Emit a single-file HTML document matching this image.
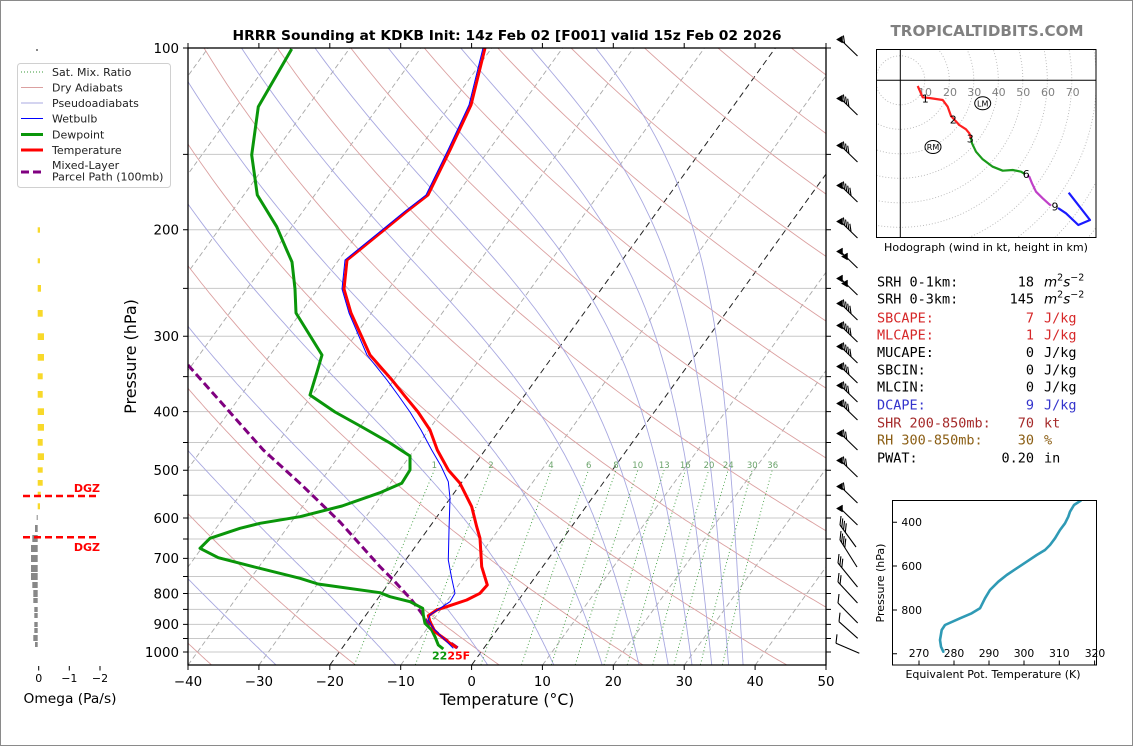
<!DOCTYPE html>
<html><head><meta charset="utf-8"><style>
html,body{margin:0;padding:0;background:#fff;}
svg{display:block;}
text{font-family:"DejaVu Sans","Liberation Sans",sans-serif;}
.mono{font-family:"DejaVu Sans Mono","Liberation Mono",monospace;}
</style></head><body>
<svg id="s" xmlns="http://www.w3.org/2000/svg" width="1134" height="748" viewBox="0 0 1134 748">
<defs>
<clipPath id="cm"><rect x="188" y="48" width="638" height="617"/></clipPath>
<clipPath id="ch"><rect x="876.5" y="49.5" width="219.5" height="188"/></clipPath>
<clipPath id="ct"><rect x="892.5" y="500.5" width="204" height="164.5"/></clipPath>
</defs>
<rect x="0" y="0" width="1134" height="748" fill="#fff"/>
<rect x="0.5" y="0.5" width="1132" height="745" fill="none" stroke="#8a8a8a" stroke-width="1"/>

<!-- title -->
<text x="507" y="40" text-anchor="middle" font-weight="bold" font-size="13.6" textLength="549" lengthAdjust="spacingAndGlyphs">HRRR Sounding at KDKB Init: 14z Feb 02 [F001] valid 15z Feb 02 2026</text>
<text x="987" y="36" text-anchor="middle" font-weight="bold" font-size="15.5" fill="#808080" textLength="193" lengthAdjust="spacingAndGlyphs">TROPICALTIDBITS.COM</text>

<!-- horizontal grid -->
<g stroke="#c8c8c8" stroke-width="1">
<line x1="188" x2="826" y1="154.4" y2="154.4"/><line x1="188" x2="826" y1="229.8" y2="229.8"/>
<line x1="188" x2="826" y1="288.4" y2="288.4"/><line x1="188" x2="826" y1="336.2" y2="336.2"/>
<line x1="188" x2="826" y1="376.6" y2="376.6"/><line x1="188" x2="826" y1="411.6" y2="411.6"/>
<line x1="188" x2="826" y1="442.5" y2="442.5"/><line x1="188" x2="826" y1="470.2" y2="470.2"/>
<line x1="188" x2="826" y1="495.2" y2="495.2"/><line x1="188" x2="826" y1="518.0" y2="518.0"/>
<line x1="188" x2="826" y1="539.0" y2="539.0"/><line x1="188" x2="826" y1="558.4" y2="558.4"/>
<line x1="188" x2="826" y1="576.5" y2="576.5"/><line x1="188" x2="826" y1="593.5" y2="593.5"/>
<line x1="188" x2="826" y1="609.4" y2="609.4"/><line x1="188" x2="826" y1="624.4" y2="624.4"/>
<line x1="188" x2="826" y1="638.5" y2="638.5"/><line x1="188" x2="826" y1="652" y2="652"/>
</g>
<g id="bg" clip-path="url(#cm)"></g>

<!-- mixing ratio labels -->
<g font-size="8.5" fill="#6aa36a" text-anchor="middle">
<text x="434.3" y="468">1</text><text x="491" y="468">2</text><text x="551" y="468">4</text>
<text x="588.7" y="468">6</text><text x="616" y="468">8</text><text x="637.7" y="468">10</text>
<text x="664.3" y="468">13</text><text x="685.3" y="468">16</text><text x="709" y="468">20</text>
<text x="728.3" y="468">24</text><text x="752.3" y="468">30</text><text x="772.7" y="468">36</text>
</g>

<!-- data -->
<g clip-path="url(#cm)" fill="none" stroke-linejoin="round">
<polyline stroke="#800080" stroke-width="3" stroke-dasharray="8,4" points="188,365 263.3,450 300,483.3 340,522 380,566.7 393.3,580 411.7,600 421.7,613.3 430,626.7 441.7,636.7 458.3,648.3"/>
<polyline stroke="#0a960a" stroke-width="3" points="291.7,49 258.3,106.7 251.7,155 257.3,195 276.7,226.7 286.7,250 292,262 295,289 296,313 322,355 317,372 310,395 335,412 362,427 390,443 410,456 410,470 401.7,483.3 380,492.7 342,506 300,516.7 260,523.3 240,528.3 210,538.3 200,548.3 218.3,557.7 253.3,566.7 300,578.3 318,584 380,592.7 390,596.7 410,601.7 422.7,608.3 423.3,615 425,623.3 431.7,630 435,636.7 438.3,645 443.3,649"/>
<polyline stroke="#ff0000" stroke-width="3" points="485,48 471,105 450,150 428,195 406,212 384,230 347,260 344,289 351,313 370,355 392,380 404,395 418,412 430,430 437.3,450 448.3,470 460,483.3 471.7,506.7 476.7,526.7 480,538.3 481.7,566.7 487.3,585 480,593.3 466.7,600 446.7,606.7 436.7,610 428.3,615.7 430,621.7 435,631.7 441.7,636.7 450,643.3 456.7,647.7"/>
<polyline stroke="#0000ff" stroke-width="1" points="483,48 469,105 448,150 426,195 404,212 382,230 345,260 342,289 349,313 367,355 387,380 398,395 410,412 421,430 431.7,450 441,466 448.3,481.7 450,498.3 449,530 448.3,560 451.7,578.3 455,593.3 450,601.7 440,608.3 430,615 428.3,620 433.3,628.3 441.7,636.7 453.3,648.3"/>
</g>
<text x="432" y="659.5" font-size="11" font-weight="bold"><tspan fill="#0a960a">22</tspan><tspan fill="#ff0000">25F</tspan></text>

<!-- main axes frame and ticks -->
<rect x="188" y="48" width="638" height="617" fill="none" stroke="#000" stroke-width="1.3"/>
<path stroke="#000" stroke-width="1" fill="none" d="
M188,665V670M258.9,665V670M329.8,665V670M400.7,665V670M471.6,665V670M542.4,665V670M613.3,665V670M684.2,665V670M755.1,665V670M826,665V670
M188,48V43M258.9,48V43M329.8,48V43M400.7,48V43M471.6,48V43M542.4,48V43M613.3,48V43M684.2,48V43M755.1,48V43M826,48V43
M183,48H188M183,154.4H188M183,229.8H188M183,288.4H188M183,336.2H188M183,376.6H188M183,411.6H188M183,442.5H188M183,470.2H188M183,495.2H188M183,518H188M183,539H188M183,558.4H188M183,576.5H188M183,593.5H188M183,609.4H188M183,624.4H188M183,638.5H188M183,652H188
M826,48H831M826,154.4H831M826,229.8H831M826,288.4H831M826,336.2H831M826,376.6H831M826,411.6H831M826,442.5H831M826,470.2H831M826,495.2H831M826,518H831M826,539H831M826,558.4H831M826,576.5H831M826,593.5H831M826,609.4H831M826,624.4H831M826,638.5H831M826,652H831"/>
<g font-size="13.4" text-anchor="end">
<text x="179" y="52.8">100</text><text x="179" y="234.6">200</text><text x="179" y="341">300</text>
<text x="179" y="416.4">400</text><text x="179" y="475">500</text><text x="179" y="522.8">600</text>
<text x="179" y="563.2">700</text><text x="179" y="598.3">800</text><text x="179" y="629.2">900</text>
<text x="179" y="656.8">1000</text>
</g>
<g font-size="13.4" text-anchor="middle">
<text x="188" y="686">−40</text><text x="258.9" y="686">−30</text><text x="329.8" y="686">−20</text>
<text x="400.7" y="686">−10</text><text x="471.6" y="686">0</text><text x="542.4" y="686">10</text>
<text x="613.3" y="686">20</text><text x="684.2" y="686">30</text><text x="755.1" y="686">40</text>
<text x="826" y="686">50</text>
</g>
<text x="507" y="705" text-anchor="middle" font-size="15.6">Temperature (°C)</text>
<text transform="translate(136,356.5) rotate(-90)" text-anchor="middle" font-size="16">Pressure (hPa)</text>

<!-- legend -->
<rect x="17.5" y="63.5" width="153" height="124" rx="3" fill="#fff" stroke="#d0d0d0"/>
<g fill="none">
<line x1="21" x2="43" y1="72" y2="72" stroke="#3a9a3a" stroke-width="1" stroke-dasharray="1,2"/>
<line x1="21" x2="43" y1="87.5" y2="87.5" stroke="#dba0a0" stroke-width="1"/>
<line x1="21" x2="43" y1="103" y2="103" stroke="#a8a8e0" stroke-width="1"/>
<line x1="21" x2="43" y1="118.5" y2="118.5" stroke="#0000ff" stroke-width="1"/>
<line x1="21" x2="43" y1="134.5" y2="134.5" stroke="#0a960a" stroke-width="3"/>
<line x1="21" x2="43" y1="150" y2="150" stroke="#ff0000" stroke-width="3"/>
<line x1="21" x2="43" y1="172" y2="172" stroke="#800080" stroke-width="3" stroke-dasharray="8,4"/>
</g>
<g font-size="11" fill="#222">
<text x="52" y="76">Sat. Mix. Ratio</text><text x="52" y="91.3">Dry Adiabats</text>
<text x="52" y="107">Pseudoadiabats</text><text x="52" y="122.3">Wetbulb</text>
<text x="52" y="138.3">Dewpoint</text><text x="52" y="154">Temperature</text>
<text x="52" y="169">Mixed-Layer</text><text x="52" y="180.7">Parcel Path (100mb)</text>
</g>

<!-- omega panel -->
<rect x="36" y="49" width="2" height="2" fill="#888"/>
<g fill="#f8d92a">
<rect x="37.7" y="227.3" width="2.3" height="5.4"/><rect x="37.7" y="258.3" width="2.3" height="5"/>
<rect x="37.7" y="285" width="3.3" height="6.7"/><rect x="37.7" y="310" width="5" height="6.7"/>
<rect x="37.7" y="333.3" width="6.3" height="6.7"/><rect x="37.7" y="354" width="6.3" height="6.7"/>
<rect x="37.7" y="373.3" width="5" height="6"/><rect x="37.7" y="391" width="5" height="6.7"/>
<rect x="37.7" y="408.3" width="6.3" height="6.7"/><rect x="37.7" y="424" width="6.3" height="6.7"/>
<rect x="37.7" y="439" width="5" height="6.7"/><rect x="37.7" y="453.3" width="6.3" height="6.7"/>
<rect x="37.7" y="467.3" width="5" height="5.4"/><rect x="37.7" y="480" width="5" height="5.7"/>
<rect x="37.7" y="491.7" width="3" height="3.3"/><rect x="37.7" y="503.3" width="2.3" height="6"/>
</g>
<g fill="#888">
<rect x="36.7" y="515" width="1" height="5"/><rect x="35" y="525" width="2.7" height="7"/>
<rect x="32.3" y="535" width="5.4" height="7"/><rect x="31" y="545" width="6.7" height="7"/>
<rect x="31" y="555" width="6.7" height="7"/><rect x="31" y="565" width="6.7" height="7"/>
<rect x="31" y="573" width="6.7" height="7"/><rect x="32.3" y="582" width="5.4" height="6"/>
<rect x="33.3" y="590" width="4.4" height="7"/><rect x="33.3" y="598" width="4.4" height="5"/>
<rect x="34.3" y="607" width="3.4" height="5"/><rect x="34.3" y="613" width="3.4" height="5"/>
<rect x="34.3" y="622" width="3.4" height="5"/><rect x="34.3" y="628" width="3.4" height="5"/>
<rect x="33.3" y="635" width="4.4" height="6"/><rect x="35" y="642" width="2.7" height="5"/>
</g>
<g stroke="#ff0000" stroke-width="2.5" stroke-dasharray="7,4">
<line x1="23" x2="99" y1="496" y2="496"/><line x1="23" x2="99" y1="537.3" y2="537.3"/>
</g>
<text x="100" y="492" text-anchor="end" font-size="11" font-weight="bold" fill="#ff0000">DGZ</text>
<text x="100" y="551" text-anchor="end" font-size="11" font-weight="bold" fill="#ff0000">DGZ</text>
<path stroke="#000" stroke-width="1" d="M38.7,666V670.5M69.3,666V670.5M100,666V670.5"/>
<g font-size="11" text-anchor="middle">
<text x="38.7" y="682">0</text><text x="69.3" y="682">−1</text><text x="100" y="682">−2</text>
</g>
<text x="70" y="703" text-anchor="middle" font-size="13" textLength="93" lengthAdjust="spacingAndGlyphs">Omega (Pa/s)</text>

<!-- wind barbs -->
<g id="barbs" stroke="#000" stroke-width="1.1" fill="#000"></g>

<!-- hodograph -->
<g clip-path="url(#ch)">
<g fill="none" stroke="#b8b8b8" stroke-width="0.9" stroke-dasharray="1,2">
<circle cx="900.3" cy="80.3" r="24.5"/><circle cx="900.3" cy="80.3" r="49"/><circle cx="900.3" cy="80.3" r="73.5"/>
<circle cx="900.3" cy="80.3" r="98"/><circle cx="900.3" cy="80.3" r="122.5"/><circle cx="900.3" cy="80.3" r="147"/>
<circle cx="900.3" cy="80.3" r="171.5"/><circle cx="900.3" cy="80.3" r="196"/><circle cx="900.3" cy="80.3" r="220.5"/>
<circle cx="900.3" cy="80.3" r="245"/><circle cx="900.3" cy="80.3" r="269.5"/>
</g>
<line x1="900.3" x2="900.3" y1="49" y2="238" stroke="#000" stroke-width="1"/>
<line x1="876" x2="1096" y1="80.3" y2="80.3" stroke="#000" stroke-width="1"/>
<g font-size="11" fill="#808080" text-anchor="middle">
<text x="925" y="96">10</text><text x="950" y="96">20</text><text x="974.3" y="96">30</text>
<text x="998.7" y="96">40</text><text x="1023.3" y="96">50</text><text x="1048" y="96">60</text><text x="1072.7" y="96">70</text>
</g>
<g fill="none" stroke-width="2.2" stroke-linejoin="round">
<polyline stroke="#ff2020" points="917.7,86 922.7,97.3 929.3,98 942.7,100 947.7,106.7 951,116 959.3,125 966,129.3 969.3,133.3 971,138"/>
<polyline stroke="#1a9a1a" points="971,138 972,143.3 976,151.7 982.7,159.3 992.7,166.7 1002.7,170.7 1012.7,170 1021,171.7 1025,174"/>
<polyline stroke="#c040c8" points="1027,176 1029.3,176.7 1032,183.3 1036,191.7 1042.7,198.3 1049.3,204.3 1051,205.5"/>
<polyline stroke="#1a1aff" points="1058,208 1060,209.3 1066,213.3 1078.3,225 1090,220 1068.7,192.7"/>
</g>
<g font-size="11" fill="#000" text-anchor="middle">
<text x="925.3" y="102.3">1</text><text x="953.3" y="123.3">2</text><text x="970.3" y="142.3">3</text>
<text x="1026.3" y="178">6</text><text x="1055" y="210.7">9</text>
</g>
<ellipse cx="982.7" cy="103.3" rx="8" ry="6.5" fill="none" stroke="#000" stroke-width="1"/>
<ellipse cx="933" cy="147" rx="8" ry="6.5" fill="none" stroke="#000" stroke-width="1"/>
<text x="982.7" y="106.3" font-size="8" text-anchor="middle">LM</text>
<text x="933" y="150" font-size="8" text-anchor="middle">RM</text>
</g>
<rect x="876.5" y="49.5" width="219.5" height="188" fill="none" stroke="#000" stroke-width="1"/>
<text x="986" y="251" text-anchor="middle" font-size="11" textLength="204" lengthAdjust="spacingAndGlyphs">Hodograph (wind in kt, height in km)</text>

<!-- text panel -->
<g class="mono" font-size="13.5" xml:space="preserve">
<text x="877" y="286.7" class="mono">SRH 0-1km:</text><text x="1034" y="286.7" class="mono" text-anchor="end">18</text>
<text x="877" y="303.3" class="mono">SRH 0-3km:</text><text x="1034" y="303.3" class="mono" text-anchor="end">145</text>
<text x="877" y="322.7" class="mono" fill="#d62728">SBCAPE:</text><text x="1034" y="322.7" class="mono" text-anchor="end" fill="#d62728">7</text><text x="1044" y="322.7" class="mono" fill="#d62728">J/kg</text>
<text x="877" y="339.3" class="mono" fill="#d62728">MLCAPE:</text><text x="1034" y="339.3" class="mono" text-anchor="end" fill="#d62728">1</text><text x="1044" y="339.3" class="mono" fill="#d62728">J/kg</text>
<text x="877" y="357" class="mono">MUCAPE:</text><text x="1034" y="357" class="mono" text-anchor="end">0</text><text x="1044" y="357" class="mono">J/kg</text>
<text x="877" y="374.3" class="mono">SBCIN:</text><text x="1034" y="374.3" class="mono" text-anchor="end">0</text><text x="1044" y="374.3" class="mono">J/kg</text>
<text x="877" y="391.7" class="mono">MLCIN:</text><text x="1034" y="391.7" class="mono" text-anchor="end">0</text><text x="1044" y="391.7" class="mono">J/kg</text>
<text x="877" y="409.3" class="mono" fill="#3333cc">DCAPE:</text><text x="1034" y="409.3" class="mono" text-anchor="end" fill="#3333cc">9</text><text x="1044" y="409.3" class="mono" fill="#3333cc">J/kg</text>
<text x="877" y="427.3" class="mono" fill="#a52a2a">SHR 200-850mb:</text><text x="1034" y="427.3" class="mono" text-anchor="end" fill="#a52a2a">70</text><text x="1044" y="427.3" class="mono" fill="#a52a2a">kt</text>
<text x="877" y="444.3" class="mono" fill="#8b5e14">RH 300-850mb:</text><text x="1034" y="444.3" class="mono" text-anchor="end" fill="#8b5e14">30</text><text x="1044" y="444.3" class="mono" fill="#8b5e14">%</text>
<text x="877" y="462.3" class="mono">PWAT:</text><text x="1034" y="462.3" class="mono" text-anchor="end">0.20</text><text x="1044" y="462.3" class="mono">in</text>
</g>
<g font-size="13.5">
<text x="1044" y="286.7"><tspan font-style="italic">m</tspan><tspan font-size="9.5" dy="-6">2</tspan><tspan font-style="italic" dy="6">s</tspan><tspan font-size="9.5" dy="-6">−2</tspan></text>
<text x="1044" y="303.3"><tspan font-style="italic">m</tspan><tspan font-size="9.5" dy="-6">2</tspan><tspan font-style="italic" dy="6">s</tspan><tspan font-size="9.5" dy="-6">−2</tspan></text>
</g>

<!-- theta-e panel -->
<g clip-path="url(#ct)">
<polyline fill="none" stroke="#2f9ab5" stroke-width="2.6" stroke-linejoin="round" stroke-linecap="round" points="1080.7,500.7 1074,505 1070,511.7 1068.3,516.7 1065,523.3 1060,530 1055,538.3 1050,545 1045,550 1036.7,555 1026.7,561.7 1016.7,568.3 1006.7,575 998.3,581.7 990,590 985,598.3 980,608.3 971.7,613.3 960,618.3 945,625 941.7,630 940,640 941,646.7 943.3,651.7"/>
</g>
<rect x="892.5" y="500.5" width="204" height="164.5" fill="none" stroke="#000" stroke-width="1"/>
<path stroke="#000" stroke-width="1" d="M919,665V660.5M954,665V660.5M989,665V660.5M1024,665V660.5M1059.3,665V660.5M1094.6,665V660.5M892.5,522.3H897M892.5,566H897M892.5,610H897M892.5,653.8H897"/>
<g font-size="10.8" text-anchor="middle">
<text x="919" y="657">270</text><text x="954" y="657">280</text><text x="989" y="657">290</text>
<text x="1024" y="657">300</text><text x="1059.3" y="657">310</text><text x="1095" y="657">320</text>
<text x="911.7" y="526.2">400</text><text x="911.7" y="569.9">600</text><text x="911.7" y="613.9">800</text>
</g>
<text transform="translate(884,583) rotate(-90)" text-anchor="middle" font-size="11">Pressure (hPa)</text>
<text x="993" y="678" text-anchor="middle" font-size="11">Equivalent Pot. Temperature (K)</text>
</svg>
<script>
(function(){
var NS="http://www.w3.org/2000/svg";
var g=document.getElementById('bg');
function fmt(p){return p[0].toFixed(1)+','+p[1].toFixed(1);}
function poly(pts,at,parent){var e=document.createElementNS(NS,'polyline');e.setAttribute('points',pts.map(fmt).join(' '));e.setAttribute('fill','none');for(var k in at)e.setAttribute(k,at[k]);(parent||g).appendChild(e);}
function Yp(p){return 652+604*Math.log10(p/1000);}
function Xt(T,p){return 188+(T+40)*638/90+0.722*(665-Yp(p));}
var ps=[];for(var p=1050;p>=100;p-=5)ps.push(p);
// isotherms
for(var T=-130;T<=50;T+=10){
  var blk=(T===0||T===-20);
  poly([[Xt(T,1050),665],[Xt(T,100),48]],blk?{stroke:'#222','stroke-width':1,'stroke-dasharray':'6,4'}:{stroke:'#a8a8a8','stroke-width':0.9,'stroke-dasharray':'5,3'});
}
// dry adiabats
for(var T0=-40;T0<=280;T0+=20){
  (function(T0){poly(ps.map(function(p){return [Xt((T0+273.15)*Math.pow(p/1000,0.2857)-273.15,p),Yp(p)];}),{stroke:'#dba0a0','stroke-width':0.9});})(T0);
}
// pseudoadiabats
function es(Tc){return 6.112*Math.exp(17.67*Tc/(Tc+243.5));}
function the(Tc,p){var e=es(Tc);if(e>p*0.6)return 1e9;var r=622*e/(p-e);var T=Tc+273.15;return T*Math.pow(1000/p,0.2854*(1-0.00028*r))*Math.exp((3.376/T-0.00254)*r*(1+0.00081*r));}
function solve(te,p){var lo=-150,hi=60;for(var i=0;i<50;i++){var m=(lo+hi)/2;if(the(m,p)>te)hi=m;else lo=m;}return (lo+hi)/2;}
for(var te=243.15;te<=443.2;te+=20){
  (function(te){poly(ps.map(function(p){return [Xt(solve(te,p),p),Yp(p)];}),{stroke:'#a8a8e0','stroke-width':0.9});})(te);
}
// mixing ratio
[1,2,4,6,8,10,13,16,20,24,30,36].forEach(function(w){
  var pts=[];for(var p=1050;p>=500;p-=10){var e=p*w/(622+w);var l=Math.log(e/6.112);var Td=243.5*l/(17.67-l);pts.push([Xt(Td,p),Yp(p)]);}
  poly(pts,{stroke:'#3a9a3a','stroke-width':0.9,'stroke-dasharray':'1,2.5'});
});
// barbs
var B=document.getElementById('barbs');
function line(x1,y1,x2,y2){var e=document.createElementNS(NS,'line');e.setAttribute('x1',x1);e.setAttribute('y1',y1);e.setAttribute('x2',x2);e.setAttribute('y2',y2);B.appendChild(e);}
function tri(pts){var e=document.createElementNS(NS,'polygon');e.setAttribute('points',pts.map(fmt).join(' '));e.setAttribute('stroke-width','0.5');B.appendChild(e);}
var up=[[36,1,1],[95,1,3],[142,1,3],[182,1,4],[218,1,4],[248,2,0],[275,2,0],[300,1,4],[322,1,4],[343,1,4],[363,1,3],[382,1,3],[400,1,3],[430,1,2],[457,1,2],[483,1,1],[505,1,0]];
up.forEach(function(b){
  var ty=b[0],nf=b[1],nb=b[2];
  var sx=841,sy=ty+4,ex=857.5,ey=ty+20;
  line(sx,sy,ex,ey);
  var L=Math.hypot(ex-sx,ey-sy),ux=(ex-sx)/L,uy=(ey-sy)/L;
  for(var k=0;k<nf;k++){var o=5*k;tri([[836.5+o,ty+3.5+o],[842.5+o,ty+o],[842.5+o,ty+7+o]]);}
  for(var i=0;i<nb;i++){var d=5+5*(nf-1)+3*i;var px=sx+ux*d,py=sy+uy*d;line(px,py,px-1.2,py-8);}
});
var low=[[840,525,856,547,4],[840,540,857,567,4],[838,563,857.5,587,3],[838,582,857.5,603,2],[838,603,857.7,623,1],[839,621.7,857.7,638.3,1],[836,643.3,859.3,653.3,1]];
low.forEach(function(b){
  line(b[0],b[1],b[2],b[3]);
  var L=Math.hypot(b[2]-b[0],b[3]-b[1]),ux=(b[2]-b[0])/L,uy=(b[3]-b[1])/L;
  for(var i=0;i<b[4];i++){var d=3*i;var px=b[0]+ux*d,py=b[1]+uy*d;line(px,py,px+1,py-9);}
});
})();
</script>
</body></html>
